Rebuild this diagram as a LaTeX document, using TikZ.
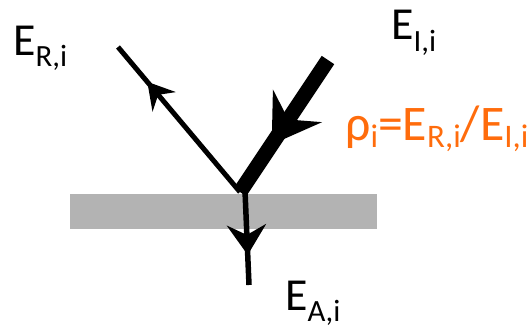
\documentclass[tikz,border=0pt]{standalone}
\usepackage{fontspec}
\setmainfont{Carlito}
\usepackage{xcolor}
\usetikzlibrary{
	arrows.meta,
	decorations.markings
}
\definecolor{rhoorange}{RGB}{255,108,12}
\definecolor{slabgray}{RGB}{179,179,179}
\newcommand{\subtxt}[3]{\raisebox{-#3bp}{\fontsize{#1}{#1}\selectfont #2}}

\begin{document}
\begin{tikzpicture}[x=1bp, y=-1bp,
	beam/.style={line width=#1, line cap=butt},
	midarrow/.style args={#1 at #2}{postaction={decorate, decoration={markings,
		mark=at position #2 with {\arrow{#1}}}}},
	lbl/.style={inner sep=0pt, anchor=base west, text=black}]
	\useasboundingbox (0,0) rectangle (527,329);
	% Schicht
	\fill[slabgray] (70,194) rectangle (377,229);
	% Punkte
	\coordinate (o) at (240,192);
	\coordinate (ot) at (245,191);
	\coordinate (rEnd) at (118,47);
	\coordinate (iEnd) at (328,60);
	\coordinate (aEnd) at (249,285);
	% Strahlen
	\draw[beam=5bp, midarrow={Stealth[length=26bp, width=30bp, inset=9bp]} at 0.76] (o) -- (rEnd);
	\draw[beam=15bp, midarrow={Stealth[length=46bp, width=58bp, inset=16bp]} at 0.64] (iEnd) -- (o);
	\draw[beam=5.5bp, midarrow={Stealth[length=30bp, width=39bp, inset=10bp]} at 0.68] (ot) -- (aEnd);
	% Beschriftung
	\node[lbl] (lR) at (13,55) {\fontsize{46}{46}\selectfont E\subtxt{31}{R,i}{11}};
	\node[lbl] (lI) at (391,39) {\fontsize{46}{46}\selectfont E\subtxt{31}{I,i}{12}};
	\node[lbl] (lA) at (285,310) {\fontsize{46}{46}\selectfont E\subtxt{31}{A,i}{11}};
	\node[lbl, text=rhoorange] (rho) at (345,140) {\fontsize{50}{50}\selectfont ρ\subtxt{33}{i}{7}=E\subtxt{33}{R,i}{7}/E\subtxt{33}{I,i}{7}};
\end{tikzpicture}
\end{document}
